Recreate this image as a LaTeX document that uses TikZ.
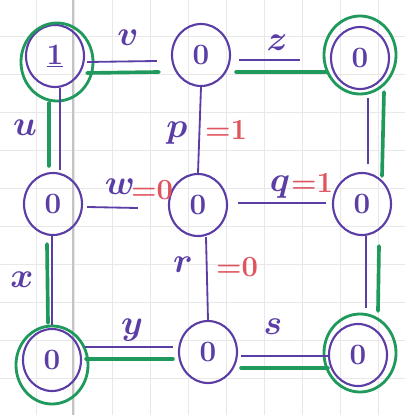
\documentclass[tikz,border=0pt]{standalone}
\usepackage{xcolor}
\usepackage{tikz}
\usetikzlibrary{shapes.geometric,positioning,backgrounds,calc}
\definecolor{clrInk}{HTML}{5B3DA6}
\definecolor{clrPath}{HTML}{1F9A5C}
\definecolor{clrVal}{HTML}{E0545E}
\definecolor{clrGrid}{HTML}{E8E8E8}
\definecolor{clrMargin}{HTML}{C4C4C4}
\tikzset{
  vtx/.style={ellipse, draw=clrInk, line width=1.5pt, text=clrInk,
    minimum width=1.45cm, minimum height=1.55cm, inner sep=0pt,
    font=\fontsize{21}{23}\selectfont\bfseries},
  ring/.style={ellipse, draw=clrPath, line width=2pt,
    minimum width=1.8cm, minimum height=1.95cm, inner sep=0pt},
  wire/.style={line width=1.3pt, clrInk},
  hl/.style={line width=2.6pt, clrPath, line cap=round},
  elab/.style={text=clrInk, font=\fontsize{24}{26}\selectfont\boldmath},
  vlab/.style={text=clrVal, font=\fontsize{21}{23}\selectfont\boldmath},
  gridline/.style={line width=0.5pt, clrGrid},
}
\begin{document}
\begin{tikzpicture}[x=0.025cm, y=-0.025cm]
\useasboundingbox (0,0) rectangle (405,415);

% Karopapier im Hintergrund
\begin{scope}[on background layer]
  \fill[white] (0,0) rectangle (405,415);
  \foreach \gx in {36,74,...,378}{
    \draw[gridline] (\gx,0) -- (\gx,415);
  }
  \foreach \gy in {36,74,...,378}{
    \draw[gridline] (0,\gy) -- (405,\gy);
  }
  \draw[clrMargin, line width=1pt] (73,0) -- (73,415);
\end{scope}

% Knoten: Zeile/Spalte
\foreach \nm/\px/\py/\val in {n11/55/56/\underline{1}, n12/201/55/0, n13/360/58/0,
    n21/53/204/0, n22/198/205/0, n23/362/204/0,
    n31/52/360/0, n32/208/352/0, n33/358/355/0}{
  \node[vtx] (\nm) at (\px,\py) {\val};
}

% gruene Ringe um die Ecken
\node[ring] (r11) at (57,62) {};
\node[ring] (r13) at (360,55) {};
\node[ring] (r31) at (52,365) {};
\node[ring] (r33) at (360,353) {};

% Kanten (lila)
\draw[wire] ($(n11.east)+(2,6)$) -- ($(n12.west)+(-14,6)$);
\draw[wire] ($(n12.east)+(8,5)$) -- ($(n13.west)+(-30,2)$);
\draw[wire] ($(n11.south)+(5,0)$) -- ($(n21.north)+(7,-2)$);
\draw[wire] ($(n21.south)+(-1,0)$) -- ($(n31.north)+(0,-3)$);
\draw[wire] (n12.south) -- (n22.north);
\draw[wire] ($(n22.south)+(8,0)$) -- (n32.north);
\draw[wire] ($(n21.east)+(4,3)$) -- ($(n22.west)+(-30,3)$);
\draw[wire] ($(n22.east)+(10,-2)$) -- ($(n23.west)+(-6,-1)$);
\draw[wire] ($(n13.south)+(8,8)$) -- ($(n23.north)+(6,-8)$);
\draw[wire] ($(n23.south)+(4,0)$) -- ($(n33.north)+(8,-15)$);
\draw[wire] ($(n31.east)+(3,-13)$) -- ($(n32.west)+(-5,-5)$);
\draw[wire] ($(n32.east)+(3,4)$) -- ($(n33.west)+(0,1)$);

% markierter Kreis (gruen), leicht versetzt neben den Kanten
\draw[hl] ($(n11.east)+(2,17)$) -- ($(n12.west)+(-12,17)$);
\draw[hl] ($(n12.east)+(5,17)$) -- ($(n13.west)+(-4,14)$);
\draw[hl] ($(n11.south)+(-6,15)$) -- ($(n21.north)+(-4,-6)$);
\draw[hl] ($(n21.south)+(-6,8)$) -- ($(n31.north)+(-4,-5)$);
\draw[hl] ($(n13.south)+(24,2)$) -- ($(n23.north)+(20,4)$);
\draw[hl] ($(n23.south)+(17,10)$) -- ($(n33.north)+(20,-12)$);
\draw[hl] ($(n31.east)+(4,-1)$) -- ($(n32.west)+(-5,7)$);
\draw[hl] ($(n32.east)+(3,16)$) -- ($(n33.west)+(0,13)$);

% Beschriftungen
\node[elab] (lv) at (128,38) {$v$};
\node[elab] (lz) at (277,43) {$z$};
\node[elab] (lu) at (25,128) {$u$};
\node[elab] (lx) at (22,280) {$x$};
\node[elab] (lp) at (177,133) {$p$};
\node[vlab] (lpv) at (226,130) {${=}1$};
\node[elab] (lw) at (120,187) {$w$};
\node[vlab] (lwv) at (152,190) {${=}0$};
\node[elab] (lq) at (280,187) {$q$};
\node[vlab] (lqv) at (312,183) {${=}1$};
\node[elab] (lr) at (183,265) {$r$};
\node[vlab] (lrv) at (237,267) {${=}0$};
\node[elab] (ly) at (132,330) {$y$};
\node[elab] (ls) at (273,327) {$s$};

\end{tikzpicture}
\end{document}
